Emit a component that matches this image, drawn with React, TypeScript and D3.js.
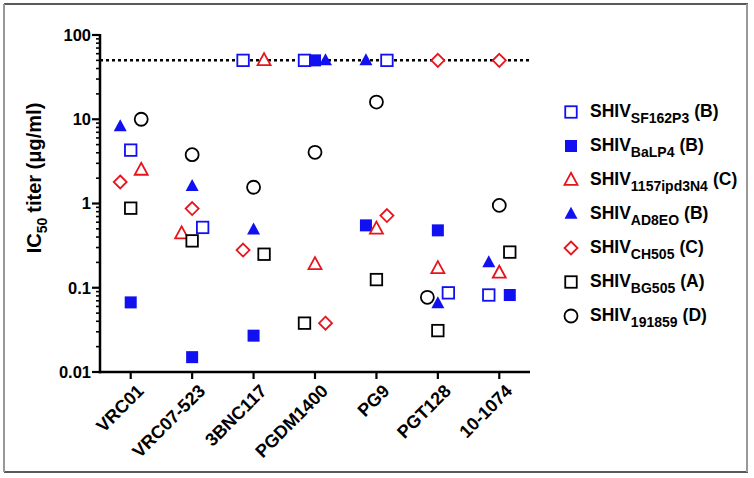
import * as d3 from "d3";

const categories = ["VRC01", "VRC07-523", "3BNC117", "PGDM1400", "PG9", "PGT128", "10-1074"];

// IC50 values per antibody (same order as categories), 50 = not neutralized (cutoff line)
const sf162p3 = [4.3, 0.52, 50, 50, 50, 0.087, 0.082];
const balp4 = [0.067, 0.015, 0.027, 50, 0.55, 0.48, 0.082];
const ipd3n4 = [2.5, 0.44, 50, 0.19, 0.5, 0.17, 0.15];
const ad8eo = [8.2, 1.6, 0.49, 50, 50, 0.065, 0.2];
const ch505 = [1.8, 0.87, 0.28, 0.038, 0.72, 50, 50];
const bg505 = [0.88, 0.36, 0.25, 0.038, 0.125, 0.031, 0.265];
const shiv191859 = [10, 3.8, 1.56, 4.05, 16, 0.077, 0.95];

// column lane of each point inside its category (-1 left, 0 centre, 1 right)
const sf162p3Lane = [0, 1, -1, -1, 1, 1, -1];
const balp4Lane = [0, 0, 0, 0, -1, 0, 1];
const ipd3n4Lane = [1, -1, 1, 0, 0, 0, 0];
const ad8eoLane = [-1, 0, 0, 1, -1, 0, -1];
const ch505Lane = [-1, 0, -1, 1, 1, 0, 0];
const bg505Lane = [0, 0, 1, -1, 0, 0, 1];
const shiv191859Lane = [1, 0, 0, 0, 0, -1, 0];

const yTicks = [0.01, 0.1, 1, 10, 100];
const yTickLabels = ["0.01", "0.1", "1", "10", "100"];
const cutoff = 50;

const BLUE = "#1010f0";
const RED = "#e8141c";
const BLACK = "#000";

type Shape = "square" | "triangle" | "diamond" | "circle";

const series = [
  { sub: "SF162P3", clade: "(B)", values: sf162p3, lanes: sf162p3Lane, shape: "square" as Shape, color: BLUE, filled: false },
  { sub: "BaLP4", clade: "(B)", values: balp4, lanes: balp4Lane, shape: "square" as Shape, color: BLUE, filled: true },
  { sub: "1157ipd3N4", clade: "(C)", values: ipd3n4, lanes: ipd3n4Lane, shape: "triangle" as Shape, color: RED, filled: false },
  { sub: "AD8EO", clade: "(B)", values: ad8eo, lanes: ad8eoLane, shape: "triangle" as Shape, color: BLUE, filled: true },
  { sub: "CH505", clade: "(C)", values: ch505, lanes: ch505Lane, shape: "diamond" as Shape, color: RED, filled: false },
  { sub: "BG505", clade: "(A)", values: bg505, lanes: bg505Lane, shape: "square" as Shape, color: BLACK, filled: false },
  { sub: "191859", clade: "(D)", values: shiv191859, lanes: shiv191859Lane, shape: "circle" as Shape, color: BLACK, filled: false },
];

function Marker({ shape, color, filled, cx, cy }: { shape: Shape; color: string; filled: boolean; cx: number; cy: number }) {
  const fill = filled ? color : "#fff";
  const sw = filled ? 0 : 1.8;
  if (shape === "square") {
    const s = filled ? 12 : 11.5;
    return <rect x={cx - s / 2} y={cy - s / 2} width={s} height={s} fill={fill} stroke={color} strokeWidth={sw} />;
  }
  if (shape === "triangle") {
    const w = 13, h = 12;
    const d = `M${cx},${cy - h * 0.6}L${cx + w / 2},${cy + h * 0.4}L${cx - w / 2},${cy + h * 0.4}Z`;
    return <path d={d} fill={fill} stroke={color} strokeWidth={sw} strokeLinejoin="miter" />;
  }
  if (shape === "diamond") {
    const r = 6.5;
    const d = `M${cx},${cy - r}L${cx + r},${cy}L${cx},${cy + r}L${cx - r},${cy}Z`;
    return <path d={d} fill={fill} stroke={color} strokeWidth={sw} />;
  }
  return <circle cx={cx} cy={cy} r={6.5} fill={fill} stroke={color} strokeWidth={sw} />;
}

export default function App() {
  const W = 754, H = 478;
  const left = 100, right = 530, top = 35, bottom = 372;

  const x = d3.scaleBand<string>().domain(categories).range([left, right]);
  const xc = (c: string) => (x(c) as number) + x.bandwidth() / 2;
  const lane = d3.scaleLinear().domain([-1, 1]).range([-10.5, 10.5]);
  const y = d3.scaleLog().domain([0.01, 100]).range([bottom, top]);

  const minorTicks: number[] = [];
  for (let e = -2; e < 2; e++) {
    for (let m = 2; m <= 9; m++) minorTicks.push(m * Math.pow(10, e));
  }

  const font = "Arial, 'Liberation Sans', Helvetica, sans-serif";
  const legendY = d3.scaleLinear().domain([0, 6]).range([112, 316]);

  return (
    <svg width={W} height={H} style={{ position: "absolute", left: 0, top: 0, background: "#fff" }} fontFamily={font}>
      {/* frame */}
      <line x1={4} x2={748} y1={4} y2={4} stroke="#222" strokeWidth={1.5} />
      <line x1={4} x2={748} y1={472} y2={472} stroke="#222" strokeWidth={1.5} />
      <line x1={4} x2={4} y1={4} y2={472} stroke="#999" strokeWidth={2} />
      <line x1={747} x2={747} y1={4} y2={472} stroke="#999" strokeWidth={2} />

      {/* cutoff line */}
      <line x1={left} x2={right} y1={y(cutoff)} y2={y(cutoff)} stroke="#000" strokeWidth={2.5} strokeDasharray="3,3" />

      {/* y axis */}
      <line x1={left} x2={left} y1={top - 1} y2={bottom + 1.25} stroke="#000" strokeWidth={2.5} />
      {minorTicks.map((t) => (
        <line key={"m" + t} x1={left - 4} x2={left} y1={y(t)} y2={y(t)} stroke="#000" strokeWidth={1.6} />
      ))}
      {yTicks.map((t, i) => (
        <g key={"y" + t}>
          <line x1={left - 8} x2={left} y1={y(t)} y2={y(t)} stroke="#000" strokeWidth={2.2} />
          <text x={left - 9} y={y(t)} dy="0.36em" textAnchor="end" fontSize={16.5} fontWeight="bold">
            {yTickLabels[i]}
          </text>
        </g>
      ))}

      {/* x axis */}
      <line x1={left - 1.25} x2={right} y1={bottom} y2={bottom} stroke="#000" strokeWidth={2.5} />
      {categories.map((c) => (
        <g key={c}>
          <line x1={xc(c)} x2={xc(c)} y1={bottom} y2={bottom + 7} stroke="#000" strokeWidth={2.2} />
          <text
            transform={`translate(${xc(c) + 5},${bottom + 11}) rotate(-45)`}
            textAnchor="end"
            dy="0.72em"
            fontSize={18}
            fontWeight="bold"
          >
            {c}
          </text>
        </g>
      ))}

      {/* y title */}
      <text transform={`translate(41,178) rotate(-90)`} textAnchor="middle" fontSize={20} fontWeight="bold">
        IC<tspan fontSize={14} dy={6}>50</tspan>
        <tspan dy={-6} dx={5}>titer (μg/ml)</tspan>
      </text>

      {/* points */}
      {series.map((s) =>
        s.values.map((v, i) => (
          <Marker
            key={s.sub + i}
            shape={s.shape}
            color={s.color}
            filled={s.filled}
            cx={xc(categories[i]) + lane(s.lanes[i])}
            cy={y(v)}
          />
        ))
      )}

      {/* legend */}
      {series.map((s, i) => (
        <g key={"lg" + s.sub}>
          <Marker shape={s.shape} color={s.color} filled={s.filled} cx={571} cy={legendY(i)} />
          <text x={590} y={legendY(i)} dy="0.3em" fontSize={17.5} fontWeight="bold">
            SHIV<tspan fontSize={14} dy={6}>{s.sub}</tspan>
            <tspan dy={-6} dx={5}>{s.clade}</tspan>
          </text>
        </g>
      ))}
    </svg>
  );
}
